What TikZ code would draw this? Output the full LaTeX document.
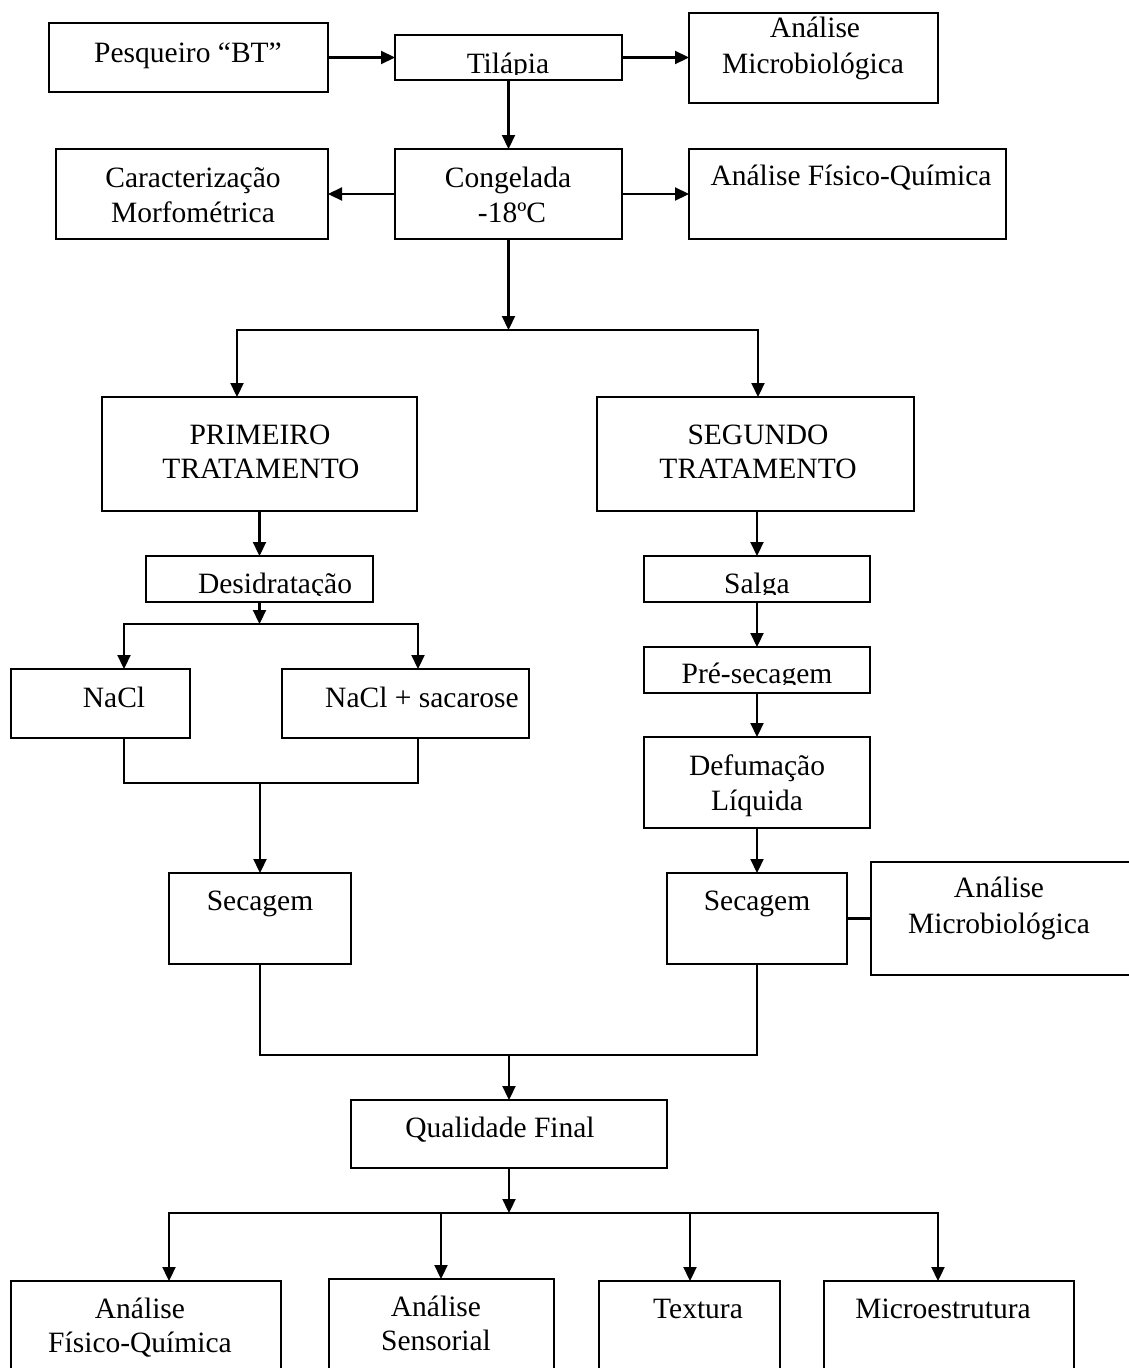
\documentclass[tikz,border=0pt]{standalone}
\usepackage{fontspec}
\setmainfont{Liberation Serif}
\usetikzlibrary{arrows.meta}
\newcommand\mkbox[5]{\node[box, minimum width={(#4)-(#2)}, minimum height={(#5)-(#3)}] (#1) at ({((#2)+(#4))/2},{((#3)+(#5))/2}) {};}
\newcommand\mktxt[4]{\node[txt] (#1) at (#2,#3) {#4};}
\begin{document}
\begin{tikzpicture}[x=1pt,y=-1pt,
  box/.style={draw, line width=2.2pt, inner sep=0pt, outer sep=0pt, rectangle},
  txt/.style={inner sep=0pt, anchor=base, font=\fontsize{29.5}{35}\selectfont},
  arr/.style={line width=2.2pt, line join=miter, -{Triangle[length=14pt,width=13pt]}},
  ln/.style={line width=2.2pt, line join=miter}]
\useasboundingbox[fill=white] (0,0) rectangle (1129,1368);

% ---- texts that are clipped at their baseline
\begin{scope}\clip (395,35) rectangle (622,74.5); \mktxt{tilt}{508}{73}{Tilápia}\end{scope}
\begin{scope}\clip (146,556) rectangle (373,595); \mktxt{desidt}{275}{593}{Desidratação}\end{scope}
\begin{scope}\clip (644,556) rectangle (870,594.5); \mktxt{salgat}{757}{593}{Salga}\end{scope}
\begin{scope}\clip (644,647) rectangle (870,684.5); \mktxt{prest}{757}{683}{Pré-secagem}\end{scope}

% ---- boxes
\mkbox{pesq}{49}{23}{328}{92}
\mkbox{til}{395}{35}{622}{80}
\mkbox{micro1}{689}{13}{938}{103}
\mkbox{carac}{56}{149}{328}{239}
\mkbox{cong}{395}{149}{622}{239}
\mkbox{fq1}{689}{149}{1006}{239}
\mkbox{prim}{102}{397}{417}{511}
\mkbox{seg}{597}{397}{914}{511}
\mkbox{desid}{146}{556}{373}{602}
\mkbox{nacl}{11}{669}{190}{738}
\mkbox{nacls}{282}{669}{529}{738}
\mkbox{salga}{644}{556}{870}{602}
\mkbox{pres}{644}{647}{870}{693}
\mkbox{defum}{644}{737}{870}{828}
\mkbox{sec1}{169}{873}{351}{964}
\mkbox{sec2}{667}{873}{847}{964}
\mkbox{micro2}{871}{862}{1140}{975}
\mkbox{qual}{351}{1100}{667}{1168}
\mkbox{b1}{11}{1281}{281}{1420}
\mkbox{b2}{329}{1279}{554}{1420}
\mkbox{b3}{599}{1281}{780}{1420}
\mkbox{b4}{824}{1281}{1074}{1420}

% ---- texts
\mktxt{pesqt}{188}{62}{Pesqueiro “BT”}
\mktxt{micro1a}{815}{37}{Análise}
\mktxt{micro1b}{813}{73}{Microbiológica}
\mktxt{carata}{193}{187}{Caracterização}
\mktxt{caratb}{193}{222}{Morfométrica}
\mktxt{congta}{508}{187}{Congelada}
\mktxt{congtb}{512}{222}{-18ºC}
\mktxt{fq1t}{851}{185}{Análise Físico-Química}
\mktxt{primta}{260}{444}{PRIMEIRO}
\mktxt{primtb}{261}{478}{TRATAMENTO}
\mktxt{segta}{758}{444}{SEGUNDO}
\mktxt{segtb}{758}{478}{TRATAMENTO}
\mktxt{naclt}{114}{707}{NaCl}
\mktxt{naclst}{422}{707}{NaCl + sacarose}
\mktxt{defumta}{757}{775}{Defumação}
\mktxt{defumtb}{757}{810}{Líquida}
\mktxt{sec1t}{260}{910}{Secagem}
\mktxt{sec2t}{757}{910}{Secagem}
\mktxt{micro2a}{999}{897}{Análise}
\mktxt{micro2b}{999}{933}{Microbiológica}
\mktxt{qualt}{500}{1137}{Qualidade Final}
\mktxt{b1a}{140}{1318}{Análise}
\mktxt{b1b}{140}{1352}{Físico-Química}
\mktxt{b2a}{436}{1316}{Análise}
\mktxt{b2b}{436}{1350}{Sensorial}
\mktxt{b3t}{698}{1318}{Textura}
\mktxt{b4t}{943}{1318}{Microestrutura}

% ---- connectors
\draw[arr] (pesq.east) -- (til.west);
\draw[arr] (til.east) -- (til.east -| micro1.west);
\draw[arr] (til.south) -- (cong.north);
\draw[arr] (cong.west) -- (carac.east);
\draw[arr] (cong.east) -- (fq1.west);

\coordinate (j1) at (508.5,330);
\coordinate (j1l) at (237,330);
\coordinate (j1r) at (758,330);
\draw[arr] (cong.south) -- (j1);
\draw[arr] (j1) -- (j1l) -- (j1l |- prim.north);
\draw[arr] (j1) -- (j1r) -- (j1r |- seg.north);

\draw[arr] (prim.south) -- (desid.north);
\coordinate (j2) at (259.5,624);
\coordinate (j2l) at (124,624);
\coordinate (j2r) at (418,624);
\draw[arr] (desid.south) -- (j2);
\draw[arr] (j2) -- (j2l) -- (j2l |- nacl.north);
\draw[arr] (j2) -- (j2r) -- (j2r |- nacls.north);
\coordinate (u1) at (124,783);
\coordinate (u2) at (418,783);
\draw[ln] (j2l |- nacl.south) -- (u1) -- (u2) -- (j2r |- nacls.south);
\coordinate (j3) at (260,783);
\draw[arr] (j3) -- (j3 |- sec1.north);

\draw[arr] (seg.south -| salga.north) -- (salga.north);
\draw[arr] (salga.south) -- (pres.north);
\draw[arr] (pres.south) -- (defum.north);
\draw[arr] (defum.south) -- (defum.south |- sec2.north);
\draw[ln, line width=2.6pt] (sec2.east) -- (micro2.west);

\coordinate (v1) at (260,1055);
\coordinate (v2) at (757,1055);
\draw[ln] (sec1.south) -- (v1) -- (v2) -- (sec2.south);
\coordinate (j4) at (509,1055);
\draw[arr] (j4) -- (qual.north);

\coordinate (j5) at (509,1213);
\coordinate (k1) at (169,1213);
\coordinate (k2) at (441,1213);
\coordinate (k3) at (690,1213);
\coordinate (k4) at (938,1213);
\draw[arr] (qual.south) -- (j5);
\draw[arr] (j5) -- (k1) -- (k1 |- b1.north);
\draw[arr] (j5) -- (k4) -- (k4 |- b4.north);
\draw[arr] (k2) -- (k2 |- b2.north);
\draw[arr] (k3) -- (k3 |- b3.north);
\end{tikzpicture}
\end{document}
